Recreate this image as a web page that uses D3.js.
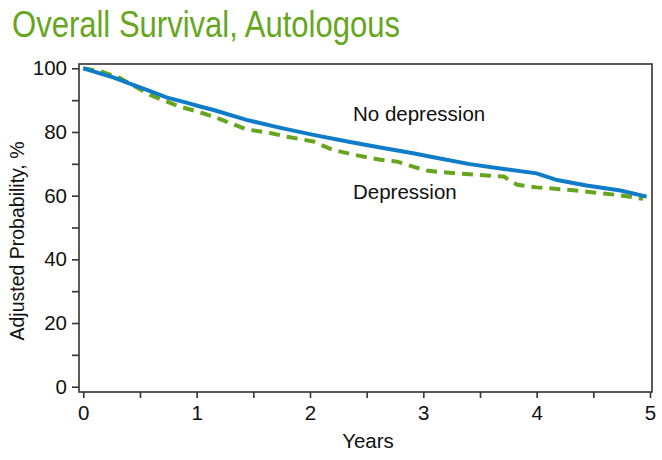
<!DOCTYPE html>
<html><head><meta charset="utf-8">
<script src="https://cdn.jsdelivr.net/npm/d3@7"></script>
<style>body{margin:0;background:#fff}svg{display:block}text{font-family:"Liberation Sans",Arial,sans-serif}</style>
</head><body><svg id="c" width="662" height="460"></svg>
<script>
const title = "Overall Survival, Autologous";
const xLabel = "Years";
const yLabel = "Adjusted Probability, %";
const seriesNames = ["No depression", "Depression"];
const yTicks = [0,10,20,30,40,50,60,70,80,90,100];
const xTicks = [0,0.5,1,1.5,2,2.5,3,3.5,4,4.5,5];
// No depression (blue, solid)
const noDepT = [0,0.27,0.44,0.59,0.74,0.91,1.03,1.15,1.44,1.74,2.03,2.33,2.62,2.91,3.1,3.41,3.71,4.0,4.18,4.44,4.74,4.97];
const noDepV = [100,97.1,94.8,92.8,90.8,89.2,88.0,86.9,83.8,81.3,79.1,77.0,75.1,73.3,72.0,69.9,68.4,67.0,64.9,63.2,61.6,59.7];
// Depression (green, dashed)
const depT = [0,0.15,0.32,0.59,0.85,1.0,1.15,1.44,1.65,1.8,2.03,2.2,2.38,2.62,2.77,2.91,3.03,3.12,3.41,3.71,3.83,4.0,4.3,4.59,4.74,4.94];
const depV = [100,99.1,97.0,91.6,88.0,86.5,84.8,80.8,79.7,78.5,77.0,74.4,72.9,71.3,70.7,69.1,67.9,67.5,66.7,66.0,63.4,62.6,61.8,60.7,60.1,59.0];

const svg = d3.select("#c");
const L = 79, R = 652, T = 64, B = 392;
const x = d3.scaleLinear().domain([0,5]).range([83.3,650]);
const y = d3.scaleLinear().domain([0,100]).range([386.7,68.3]);
const axisColor = "#333";
const fs = 20.5;

svg.append("text").attr("x",12).attr("y",37).attr("fill","#66a61e")
  .attr("font-size",37).attr("textLength",388).attr("lengthAdjust","spacingAndGlyphs").text(title);

svg.append("rect").attr("x",L).attr("y",T).attr("width",R-L).attr("height",B-T)
  .attr("fill","none").attr("stroke",axisColor).attr("stroke-width",1.6);

const ya = svg.append("g").attr("transform",`translate(${L},0)`)
  .call(d3.axisLeft(y).tickValues(yTicks).tickSize(7).tickSizeOuter(0)
    .tickFormat(d => d % 20 === 0 ? d : ""));
ya.select(".domain").remove();
ya.selectAll(".tick line").attr("stroke",axisColor).attr("stroke-width",1.6);
ya.selectAll(".tick text").attr("font-size",fs).attr("fill","#111").attr("x",-12).attr("font-family","Liberation Sans, Arial, sans-serif");

const xa = svg.append("g").attr("transform",`translate(0,${B})`)
  .call(d3.axisBottom(x).tickValues(xTicks).tickSize(6).tickSizeOuter(0)
    .tickFormat(d => Number.isInteger(d) ? d : ""));
xa.select(".domain").remove();
xa.selectAll(".tick line").attr("stroke",axisColor).attr("stroke-width",1.6);
xa.selectAll(".tick text").attr("font-size",fs).attr("fill","#111").attr("y",13).attr("font-family","Liberation Sans, Arial, sans-serif");

svg.append("text").attr("x",368).attr("y",448).attr("text-anchor","middle").attr("font-size",fs).attr("fill","#111").text(xLabel);
svg.append("text").attr("transform","translate(24,241) rotate(-90)").attr("text-anchor","middle").attr("font-size",19.5).attr("fill","#111").text(yLabel);

const line = d3.line().x(d=>x(d[0])).y(d=>y(d[1]));
svg.append("path").datum(depT.map((t,i)=>[t,depV[i]])).attr("d",line)
  .attr("fill","none").attr("stroke","#66a61e").attr("stroke-width",4).attr("stroke-dasharray","11,7");
svg.append("path").datum(noDepT.map((t,i)=>[t,noDepV[i]])).attr("d",line)
  .attr("fill","none").attr("stroke","#0f7cc8").attr("stroke-width",4);

svg.append("text").attr("x",353).attr("y",121).attr("font-size",fs).attr("fill","#111").text(seriesNames[0]);
svg.append("text").attr("x",353).attr("y",199).attr("font-size",fs).attr("fill","#111").text(seriesNames[1]);
</script></body></html>
